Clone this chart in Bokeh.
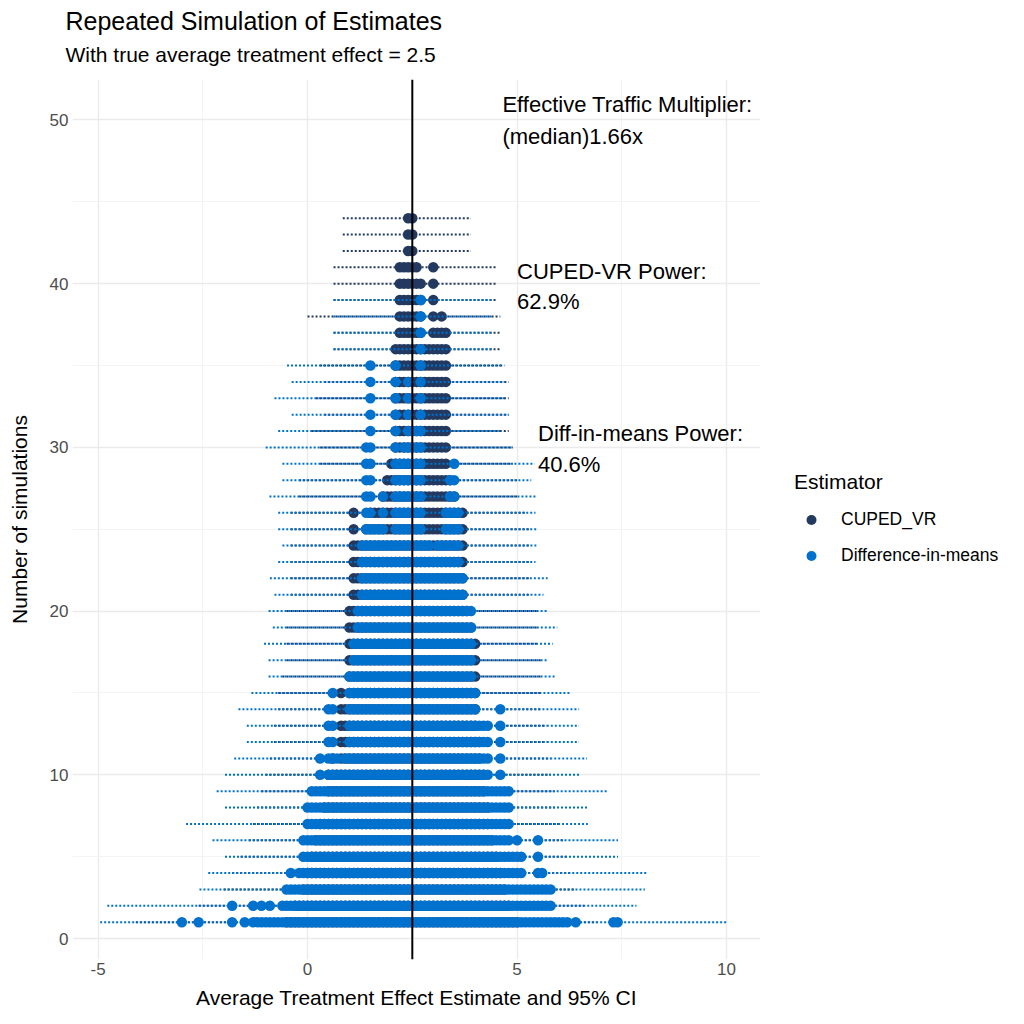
import numpy as np
from bokeh.plotting import figure
from bokeh.models import ColumnDataSource, Span, Title, Legend, LegendItem, FixedTicker
from bokeh.core.properties import value
from bokeh.embed import file_html
from bokeh.resources import INLINE

FONT = "Liberation Sans"

# estimates rounded to 0.1, and how many simulations fell in each bin
dim_bins = np.round(np.arange(-3.0, 7.45, 0.1), 1)
dim_counts = [1, 0, 0, 0, 1, 0, 0, 0, 0, 0,
              0, 0, 2, 0, 0, 1, 0, 2, 1, 2,
              1, 2, 1, 1, 2, 3, 4, 3, 4, 6,
              8, 9, 9, 11, 9, 14, 15, 11, 10, 11,
              16, 18, 20, 24, 30, 35, 25, 25, 27, 24,
              24, 35, 29, 30, 34, 30, 31, 39, 24, 24,
              23, 24, 24, 26, 28, 29, 26, 22, 20, 20,
              15, 13, 13, 13, 9, 9, 14, 9, 9, 5,
              6, 5, 3, 3, 3, 6, 4, 3, 3, 1,
              1, 1, 1, 0, 1, 0, 0, 0, 0, 0,
              0, 0, 0, 1, 1]

cuped_bins = np.round(np.arange(-0.5, 5.05, 0.1), 1)
cuped_counts = [1, 1, 2, 2, 3, 4, 5, 6, 7, 8,
                10, 11, 10, 15, 14, 20, 26, 24, 24, 25,
                26, 26, 26, 27, 28, 29, 36, 41, 41, 44,
                44, 41, 40, 36, 36, 41, 37, 38, 37, 28,
                27, 26, 26, 20, 19, 18, 12, 10, 8, 6,
                5, 4, 3, 2, 1, 1]

# extent of the dotted 95% CI lines on each row
dim_rows = list(range(1, 40))
dim_ci_lo = [-4.95, -4.78, -2.58, -2.37, -1.97, -2.27, -2.9, -1.97, -2.17, -1.97,
             -1.75, -1.45, -1.45, -1.65, -1.34, -0.93, -0.93, -1.04, -0.83, -0.93,
             -0.79, -0.9, -0.7, -0.6, -0.7, -0.7, -0.91, -0.6, -0.6, -1.0,
             -0.7, -0.38, -0.79, -0.38, -0.49, 0.62, 0.62, 0.62, 0.62]
dim_ci_hi = [10.0, 7.85, 8.05, 8.11, 7.41, 7.41, 6.69, 6.69, 7.18, 6.49,
             6.67, 6.48, 6.48, 6.48, 6.27, 5.93, 5.72, 5.85, 5.96, 5.72,
             5.63, 5.73, 5.44, 5.46, 5.46, 5.44, 5.46, 5.34, 5.42, 4.9,
             4.62, 4.8, 4.7, 4.7, 4.62, 4.4, 4.4, 4.4, 4.4]

cuped_rows = list(range(1, 45))
cuped_ci_lo = [-4.1, -2.6, -2.0, -1.8, -1.6, -1.4, -1.3, -1.2, -1.1, -1.0,
               -0.9, -0.8, -0.8, -0.7, -0.7, -0.6, -0.5, -0.5, -0.5, -0.5,
               -0.4, -0.4, -0.4, -0.4, -0.4, -0.4, -0.2, -0.2, 0.3, 0.3,
               0.1, 0.4, 0.2, 0.4, 0.3, 0.62, 0.62, 0.0, 0.62, 0.62,
               0.62, 0.84, 0.84, 0.84]
cuped_ci_hi = [6.9, 6.6, 6.4, 6.3, 6.2, 6.1, 6.0, 5.9, 5.9, 5.8,
               5.8, 5.7, 5.7, 5.6, 5.6, 5.6, 5.6, 5.5, 5.5, 5.5,
               5.3, 5.3, 5.3, 5.3, 5.3, 5.2, 5.0, 5.0, 4.9, 4.9,
               4.8, 4.8, 4.8, 4.8, 4.7, 4.62, 4.62, 4.6, 4.5, 4.53,
               4.5, 3.9, 3.9, 3.9]

ann_x = [4.65, 4.65, 5.0, 5.0, 5.5, 5.5]
ann_y = [50.95, 48.99, 40.75, 38.91, 30.85, 28.96]
ann_text = ["Effective Traffic Multiplier:", "(median)1.66x",
            "CUPED-VR Power:", "62.9%",
            "Diff-in-means Power:", "40.6%"]

CUPED_COL = "#23395f"
DIM_COL = "#0072ce"


def stack(bins, counts):
    xs, ys = [], []
    for b, c in zip(bins, counts):
        for k in range(1, c + 1):
            xs.append(float(b))
            ys.append(k)
    return ColumnDataSource(dict(x=xs, y=ys))


p = figure(frame_width=688, frame_height=880,
           x_range=(-5.61, 10.81), y_range=(-1.28, 52.47),
           output_backend="svg", toolbar_location=None, title=None,
           min_border_left=72, min_border_right=252,
           min_border_top=78, min_border_bottom=56)
p.outline_line_color = None

p.segment(x0=cuped_ci_lo, y0=cuped_rows, x1=cuped_ci_hi, y1=cuped_rows,
          line_color=CUPED_COL, line_width=2, line_dash="2 2")
cr = p.scatter("x", "y", source=stack(cuped_bins, cuped_counts), size=10.5,
               fill_color=CUPED_COL, line_color=None)
p.segment(x0=dim_ci_lo, y0=dim_rows, x1=dim_ci_hi, y1=dim_rows,
          line_color=DIM_COL, line_width=2, line_dash="2 2")
dr = p.scatter("x", "y", source=stack(dim_bins, dim_counts), size=10.5,
               fill_color=DIM_COL, line_color=None)

p.add_layout(Span(location=2.5, dimension="height", line_color="black", line_width=2))

p.text(x=ann_x, y=ann_y, text=ann_text, text_font=value(FONT), text_font_size="22px",
       text_align="left", text_baseline="middle", text_color="black")

p.xaxis.ticker = FixedTicker(ticks=[-5, 0, 5, 10], minor_ticks=[-2.5, 2.5, 7.5])
p.xaxis.major_label_overrides = {-5: "-5"}
p.yaxis.ticker = FixedTicker(ticks=[0, 10, 20, 30, 40, 50],
                             minor_ticks=[5, 15, 25, 35, 45])
for g in (p.xgrid, p.ygrid):
    g.grid_line_color = "#ebebeb"
    g.grid_line_width = 1.4
    g.minor_grid_line_color = "#f3f3f3"
    g.minor_grid_line_width = 0.9

p.xaxis.axis_label = "Average Treatment Effect Estimate and 95% CI"
p.yaxis.axis_label = "Number of simulations"
for ax in (p.xaxis, p.yaxis):
    ax.axis_line_color = None
    ax.major_tick_line_color = None
    ax.minor_tick_line_color = None
    ax.major_tick_out = 0
    ax.major_tick_in = 0
    ax.minor_tick_out = 0
    ax.minor_tick_in = 0
    ax.major_label_text_color = "#4d4d4d"
    ax.major_label_text_font = FONT
    ax.major_label_text_font_size = "17px"
    ax.axis_label_text_font = FONT
    ax.axis_label_text_font_size = "21px"
    ax.axis_label_text_font_style = "normal"
    ax.axis_label_text_color = "black"
p.xaxis.major_label_standoff = 3
p.yaxis.major_label_standoff = 4
p.xaxis.axis_label_standoff = 8
p.yaxis.axis_label_standoff = 16

# empty spacer keeps the subtitle clear of the panel
p.add_layout(Title(text=" ", text_font_size="8px", standoff=0), "above")
p.add_layout(Title(text="With true average treatment effect = 2.5", text_font=FONT,
                   text_font_size="21px", text_font_style="normal", align="left",
                   text_color="black", standoff=5, offset=-7), "above")
p.add_layout(Title(text="Repeated Simulation of Estimates", text_font=FONT,
                   text_font_size="25px", text_font_style="normal", align="left",
                   text_color="black", standoff=8, offset=-7), "above")

legend = Legend(items=[LegendItem(label="CUPED_VR", renderers=[cr]),
                       LegendItem(label="Difference-in-means", renderers=[dr])],
                title="Estimator", location="center_left")
legend.title_text_font = FONT
legend.title_text_font_size = "21px"
legend.title_text_font_style = "normal"
legend.title_text_color = "black"
legend.title_standoff = 13
legend.label_text_font = FONT
legend.label_text_font_size = "17.5px"
legend.label_text_color = "black"
legend.glyph_width = 34
legend.glyph_height = 25
legend.spacing = 11
legend.label_standoff = 13
legend.padding = 5
legend.margin = 34
legend.border_line_color = None
legend.background_fill_alpha = 0
p.add_layout(legend, "right")

open("out.html", "w").write(file_html(p, INLINE))
